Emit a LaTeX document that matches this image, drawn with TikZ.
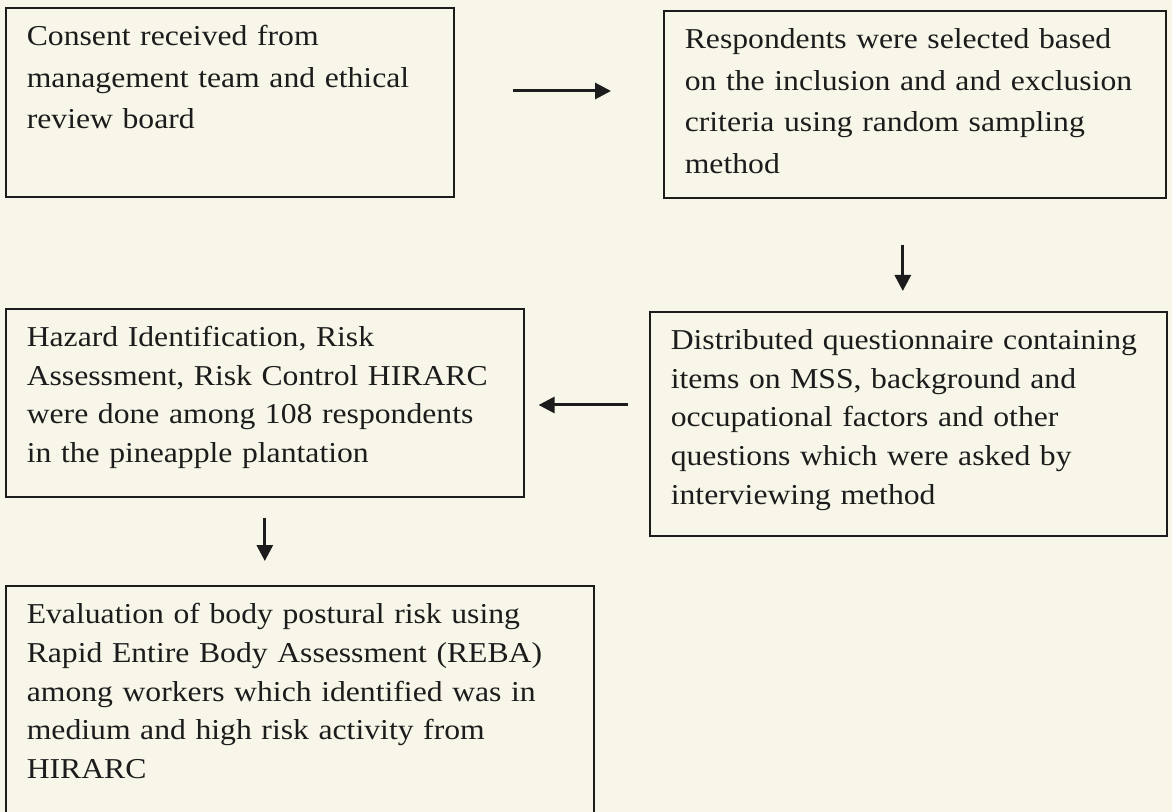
\documentclass[tikz,border=0pt]{standalone}
\usepackage{fontspec}
\setmainfont{Liberation Serif}[FakeStretch=1.1]
\usetikzlibrary{arrows.meta}
\definecolor{paper}{RGB}{248,246,232}
\definecolor{ink}{RGB}{28,28,28}

\begin{document}
\begin{tikzpicture}[x=0.5pt,y=-0.5pt,
    stepbox/.style={draw=ink,line width=0.8pt,anchor=north west,align=left,
        inner xsep=10.5pt,inner ysep=10pt,text height=9pt,text=ink},
    toprow/.style={font=\fontsize{14.4}{20.8}\selectfont},
    lowrow/.style={font=\fontsize{14.4}{19.3}\selectfont},
    flow/.style={-{Triangle[length=8pt,width=8pt]},line width=1.5pt,draw=ink}]

    \clip (0,0) rectangle (1172,812);
    \fill[paper] (0,0) rectangle (1172,812);

    \node[stepbox,toprow,text width=203pt,text depth=65.5pt] (c1) at (5,7)
        {Consent received from\\management team and ethical\\review board};
    \node[stepbox,toprow,text width=230pt,text depth=64.5pt] (c2) at (663,10)
        {Respondents were selected based\\on the inclusion and and exclusion\\criteria using random sampling\\method};
    \node[stepbox,lowrow,text width=237.5pt,text depth=83pt] (c3) at (649,311)
        {Distributed questionnaire containing\\items on MSS, background and\\occupational factors and other\\questions which were asked by\\interviewing method};
    \node[stepbox,lowrow,text width=238pt,text depth=65pt] (c4) at (5,308)
        {Hazard Identification, Risk\\Assessment, Risk Control HIRARC\\were done among 108 respondents\\in the pineapple plantation};
    \node[stepbox,lowrow,text width=273pt,text depth=93.5pt] (c5) at (5,585)
        {Evaluation of body postural risk using\\Rapid Entire Body Assessment (REBA)\\among workers which identified was in\\medium and high risk activity from\\HIRARC};

    % arrows between the steps
    \draw[flow,shorten <=29pt,shorten >=26pt] (c1.east |- 0,91) -- (c2.west |- 0,91);
    \draw[flow,shorten <=23pt,shorten >=10pt] ([xshift=-6pt]c2.south) -- ([xshift=-6pt]c2.south |- c3.north);
    \draw[flow,shorten <=10.5pt,shorten >=7pt] (c3.west |- 0,405) -- (c4.east |- 0,405);
    \draw[flow,shorten <=10pt,shorten >=12pt] (c4.south) -- (c4.south |- c5.north);
\end{tikzpicture}
\end{document}
